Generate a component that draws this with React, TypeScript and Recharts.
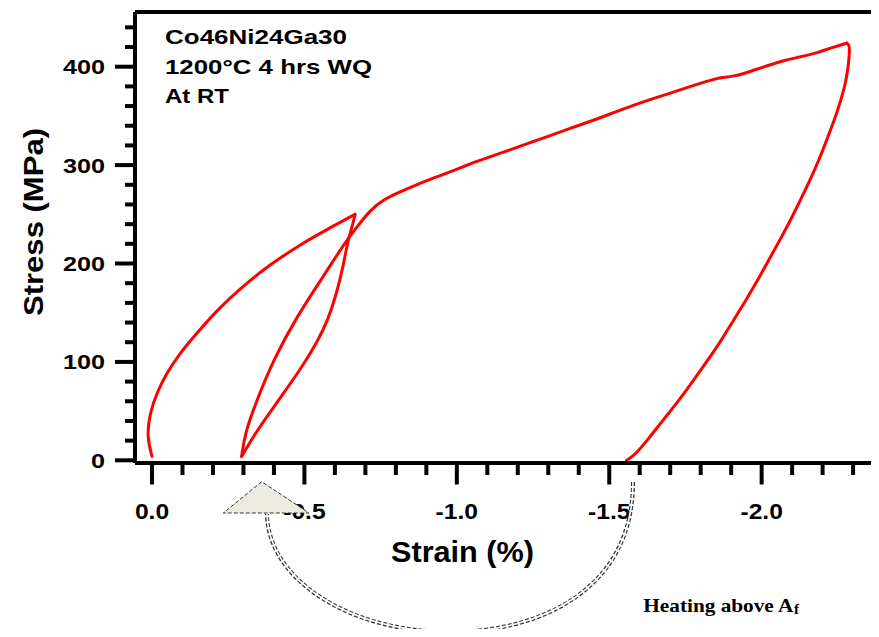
import React from 'react';
import { LineChart, Line, XAxis, YAxis, ReferenceLine } from 'recharts';

// [strain %, stress MPa] pairs along each branch of the loop
const firstLoading: [number, number][] = [
  [0.0, 4], [0.017, 24], [0.007, 48], [-0.015, 68], [-0.048, 89], [-0.092, 109],
  [-0.146, 129], [-0.215, 153], [-0.29, 175], [-0.387, 199], [-0.495, 221],
  [-0.577, 235], [-0.66, 249], [-0.666, 250],
];
const firstUnloading: [number, number][] = [
  [-0.66, 241], [-0.643, 224], [-0.627, 197], [-0.606, 170], [-0.578, 143],
  [-0.54, 119], [-0.486, 92], [-0.431, 68], [-0.376, 44], [-0.332, 24],
  [-0.3, 7], [-0.294, 4],
];
const reloading: [number, number][] = [
  [-0.305, 28], [-0.344, 61], [-0.398, 102], [-0.475, 146], [-0.562, 187],
  [-0.639, 224], [-0.672, 237], [-0.715, 254], [-0.759, 265], [-0.814, 273],
  [-0.868, 280], [-0.922, 287], [-0.978, 293], [-1.033, 300], [-1.087, 306],
  [-1.142, 312], [-1.197, 318], [-1.251, 324], [-1.306, 330], [-1.36, 336],
  [-1.415, 342], [-1.47, 348], [-1.579, 361], [-1.689, 372], [-1.776, 381],
  [-1.842, 387], [-1.864, 389], [-1.907, 390], [-1.962, 395], [-2.017, 401],
  [-2.082, 407], [-2.126, 410], [-2.181, 414], [-2.236, 420], [-2.279, 424],
];
const finalUnloading: [number, number][] = [
  [-2.288, 422], [-2.288, 415], [-2.286, 405], [-2.277, 385], [-2.26, 366],
  [-2.239, 346], [-2.214, 326], [-2.188, 305], [-2.159, 285], [-2.128, 265],
  [-2.095, 244], [-2.06, 224], [-2.024, 204], [-1.987, 183], [-1.949, 163],
  [-1.909, 143], [-1.868, 122], [-1.824, 102], [-1.778, 82], [-1.729, 61],
  [-1.677, 41], [-1.624, 20], [-1.591, 8], [-1.568, 2], [-1.557, 0],
];

const xTickValues = [
  0, -0.1, -0.2, -0.3, -0.4, -0.5, -0.6, -0.7, -0.8, -0.9, -1, -1.1, -1.2,
  -1.3, -1.4, -1.5, -1.6, -1.7, -1.8, -1.9, -2, -2.1, -2.2, -2.3,
];
const xMajorValues = [0, -0.5, -1, -1.5, -2];
const xMajorLabels = ['0.0', '-0.5', '-1.0', '-1.5', '-2.0'];
const yTickValues = [
  0, 20, 40, 60, 80, 100, 120, 140, 160, 180, 200, 220, 240, 260, 280, 300,
  320, 340, 360, 380, 400, 420, 440,
];
const yMajorValues = [0, 100, 200, 300, 400];
const yMajorLabels = ['0', '100', '200', '300', '400'];

const titleLines = ['Co46Ni24Ga30', '1200°C 4 hrs WQ', 'At RT'];
const xTitle = 'Strain (%)';
const yTitle = 'Stress (MPa)';
const noteText = 'Heating above A';
const noteSub = 'f';

const W = 871;
const H = 621;
const PLOT_LEFT = 127;
const PLOT_TOP = 4;
const PLOT_BOTTOM = 455;
const X_AXIS_H = 60;
const X_DOMAIN: [number, number] = [-2.385, 0.0558];
const Y_DOMAIN: [number, number] = [-2.74, 455.6];

const SANS = '"Liberation Sans", Arial, Helvetica, sans-serif';
const SERIF = '"Liberation Serif", "Times New Roman", serif';
const AXIS_W = 4;

const toRows = (pts: [number, number][]) => pts.map(([strain, stress]) => ({ strain, stress }));

// each branch starts where the previous one ended so the loop stays continuous
const branches = [
  toRows(firstLoading),
  toRows([firstLoading[firstLoading.length - 1], ...firstUnloading]),
  toRows([firstUnloading[firstUnloading.length - 1], ...reloading]),
  toRows([reloading[reloading.length - 1], ...finalUnloading]),
];

const XTick = (props: any) => {
  const { x, payload } = props;
  const i = xMajorValues.indexOf(payload.value);
  const major = i >= 0;
  return (
    <g>
      <line x1={x} x2={x} y1={PLOT_BOTTOM} y2={PLOT_BOTTOM + (major ? 21.5 : 12)} stroke="#000" strokeWidth={AXIS_W} />
      {major && (
        <text
          transform={`translate(${x},${PLOT_BOTTOM + 56}) scale(1.12,1)`}
          textAnchor="middle"
          fontFamily={SANS}
          fontWeight="bold"
          fontSize={22}
          fill="#000"
        >
          {xMajorLabels[i]}
        </text>
      )}
    </g>
  );
};

const YTick = (props: any) => {
  const { y, payload } = props;
  const i = yMajorValues.indexOf(payload.value);
  const major = i >= 0;
  return (
    <g>
      <line x1={PLOT_LEFT - (major ? 20 : 10)} x2={PLOT_LEFT} y1={y} y2={y} stroke="#000" strokeWidth={AXIS_W} />
      {major && (
        <text
          transform={`translate(${PLOT_LEFT - 30},${y + 7.5}) scale(1.2,1)`}
          textAnchor="end"
          fontFamily={SANS}
          fontWeight="bold"
          fontSize={21}
          fill="#000"
        >
          {yMajorLabels[i]}
        </text>
      )}
    </g>
  );
};

const titleBaselines = [35.5, 66, 94.5];
const titleLengths = [182, 207, 64];

export default function App() {
  return (
    <div style={{ position: 'relative', width: W, height: H }}>
      <LineChart
        width={W}
        height={H}
        margin={{ top: PLOT_TOP, right: 0, bottom: H - PLOT_BOTTOM - X_AXIS_H, left: 0 }}
      >
        <XAxis
          dataKey="strain"
          type="number"
          domain={X_DOMAIN}
          allowDataOverflow
          reversed
          ticks={xTickValues}
          interval={0}
          height={X_AXIS_H}
          tickLine={false}
          tickSize={0}
          tickMargin={0}
          tick={(p: any) => <XTick {...p} />}
          axisLine={{ stroke: '#000', strokeWidth: AXIS_W }}
        />
        <YAxis
          type="number"
          domain={Y_DOMAIN}
          allowDataOverflow
          ticks={yTickValues}
          interval={0}
          width={PLOT_LEFT}
          tickLine={false}
          tickSize={0}
          tickMargin={0}
          tick={(p: any) => <YTick {...p} />}
          axisLine={{ stroke: '#000', strokeWidth: AXIS_W }}
        />
        <ReferenceLine y={Y_DOMAIN[1]} stroke="#000" strokeWidth={AXIS_W} ifOverflow="visible" />
        {branches.map((rows, k) => (
          <Line
            key={k}
            data={rows}
            dataKey="stress"
            type="basis"
            stroke="#ff0000"
            strokeWidth={3}
            strokeLinejoin="round"
            strokeLinecap="round"
            dot={false}
            activeDot={false}
            isAnimationActive={false}
          />
        ))}
      </LineChart>
      <svg
        width={W}
        height={H + 8}
        style={{ position: 'absolute', left: 0, top: 0, pointerEvents: 'none', overflow: 'visible' }}
      >
        {titleLines.map((t, k) => (
          <text
            key={t}
            x={157}
            y={titleBaselines[k]}
            textLength={titleLengths[k]}
            lengthAdjust="spacingAndGlyphs"
            fontFamily={SANS}
            fontWeight="bold"
            fontSize={21}
            fill="#000"
          >
            {t}
          </text>
        ))}
        <text
          x={454.5}
          y={554}
          textAnchor="middle"
          textLength={143}
          lengthAdjust="spacingAndGlyphs"
          fontFamily={SANS}
          fontWeight="bold"
          fontSize={29}
          fill="#000"
        >
          {xTitle}
        </text>
        <text
          transform="translate(35.3,214) rotate(-90)"
          textAnchor="middle"
          textLength={188}
          lengthAdjust="spacingAndGlyphs"
          fontFamily={SANS}
          fontWeight="bold"
          fontSize={28}
          fill="#000"
        >
          {yTitle}
        </text>
        {/* heating arrow: double dashed arc ending in a triangular head */}
        <path
          d="M 625 474 C 625 582, 532 624, 442 624 C 342 624, 260 572, 259 506"
          fill="none"
          stroke="#333"
          strokeWidth={4}
          strokeDasharray="4 2"
        />
        <path
          d="M 625 474 C 625 582, 532 624, 442 624 C 342 624, 260 572, 259 506"
          fill="none"
          stroke="#fff"
          strokeWidth={1.6}
        />
        <polygon
          points="253.7,473.7 215.3,505 301,505"
          fill="#ecebe1"
          stroke="#333"
          strokeWidth={1}
          strokeDasharray="4 2"
        />
        <text
          x={635.3}
          y={603.7}
          textLength={150}
          lengthAdjust="spacingAndGlyphs"
          fontFamily={SERIF}
          fontWeight="bold"
          fontSize={19}
          fill="#000"
        >
          {noteText}
        </text>
        <text x={786} y={606} fontFamily={SERIF} fontWeight="bold" fontSize={15} fill="#000">
          {noteSub}
        </text>
      </svg>
    </div>
  );
}
